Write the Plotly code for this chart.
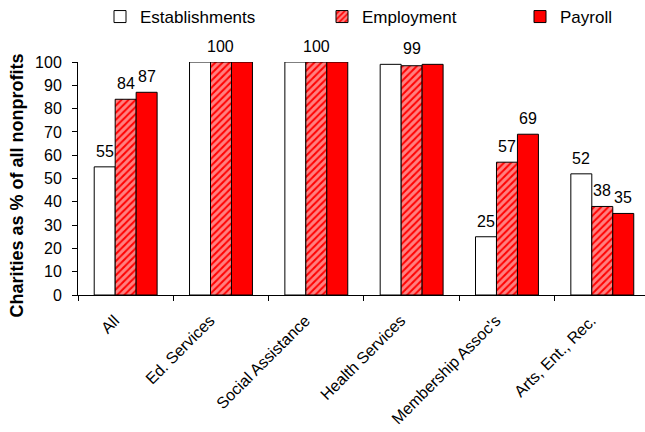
import plotly.graph_objects as go

# Charity share of all nonprofits, by industry
categories = ["All", "Ed. Services", "Social Assistance", "Health Services",
              "Membership Assoc's", "Arts, Ent., Rec."]
establishments = [55, 100, 100, 99, 25, 52]
employment = [84, 100, 100, 98.4, 57, 38]
payroll = [87, 100, 100, 99, 69, 35]

# groups that carry a single shared label instead of one label per bar
group_label_idx = [1, 2, 3]

FONT = "Liberation Sans, Arial, sans-serif"
RED = "#FF0000"
BAR_W = 0.22  # width of one bar in category units (3 bars, bargap 0.34)

fig = go.Figure()
fig.add_trace(go.Bar(name="Establishments", x=categories, y=establishments,
                     marker=dict(color="white", line=dict(color="black", width=1)),
                     legend="legend"))
fig.add_trace(go.Bar(name="Employment", x=categories, y=employment,
                     marker=dict(color=RED, line=dict(color="black", width=1),
                                 pattern=dict(shape="/", fgcolor="white", bgcolor=RED,
                                              size=5, solidity=0.6)),
                     legend="legend2"))
fig.add_trace(go.Bar(name="Payroll", x=categories, y=payroll,
                     marker=dict(color=RED, line=dict(color="black", width=1)),
                     legend="legend3"))

label_font = dict(size=16, color="black", family=FONT)
annotations = []
for i in range(len(categories)):
    if i in group_label_idx:
        # one shared label centred over the group
        top = max(establishments[i], employment[i], payroll[i])
        annotations.append(dict(x=i, y=top, text=f"{establishments[i]:.0f}"))
    else:
        for off, series in zip((-BAR_W, 0, BAR_W), (establishments, employment, payroll)):
            annotations.append(dict(x=i + off, y=series[i], text=f"{series[i]:.0f}"))
for a in annotations:
    a.update(xref="x", yref="y", showarrow=False, yanchor="bottom", yshift=5, font=label_font)

# axis title, centred a little below the middle of the plot
annotations.append(dict(xref="paper", yref="paper", x=(16 - 78) / 567, y=(295 - 185.5) / 233,
                        text="<b>Charities as % of all nonprofits</b>", textangle=-90,
                        showarrow=False, xanchor="center", yanchor="middle",
                        font=dict(size=18, color="black", family=FONT)))

legend_style = dict(orientation="h", xanchor="left", yanchor="middle",
                    xref="container", yref="container",
                    font=dict(size=17, color="black", family=FONT),
                    bgcolor="rgba(0,0,0,0)", itemclick=False)

fig.update_layout(
    width=645, height=432,
    margin=dict(l=78, r=0, t=62, b=137),
    paper_bgcolor="white", plot_bgcolor="white",
    barmode="group", bargap=0.34, bargroupgap=0,
    font=dict(family=FONT, color="black"),
    showlegend=True,
    legend=dict(x=100 / 645, y=1 - 17 / 432, **legend_style),
    legend2=dict(x=322 / 645, y=1 - 17 / 432, **legend_style),
    legend3=dict(x=520 / 645, y=1 - 17 / 432, **legend_style),
    annotations=annotations,
)
fig.update_xaxes(range=[-0.5, 5.448], tickson="boundaries", tickangle=-45,
                 ticks="outside", ticklen=5, tickcolor="black", showline=True,
                 linecolor="black", linewidth=1, showgrid=False, zeroline=False,
                 ticklabelstandoff=9, ticklabelshift=-11, automargin=False,
                 tickfont=dict(size=16, color="black", family=FONT))
fig.update_yaxes(range=[0, 100], dtick=10, ticks="outside", ticklen=5, tickcolor="black",
                 showline=True, linecolor="black", linewidth=1, showgrid=False,
                 zeroline=False, ticklabelstandoff=7, automargin=False,
                 tickfont=dict(size=16, color="black", family=FONT))

fig.write_html("out.html")
